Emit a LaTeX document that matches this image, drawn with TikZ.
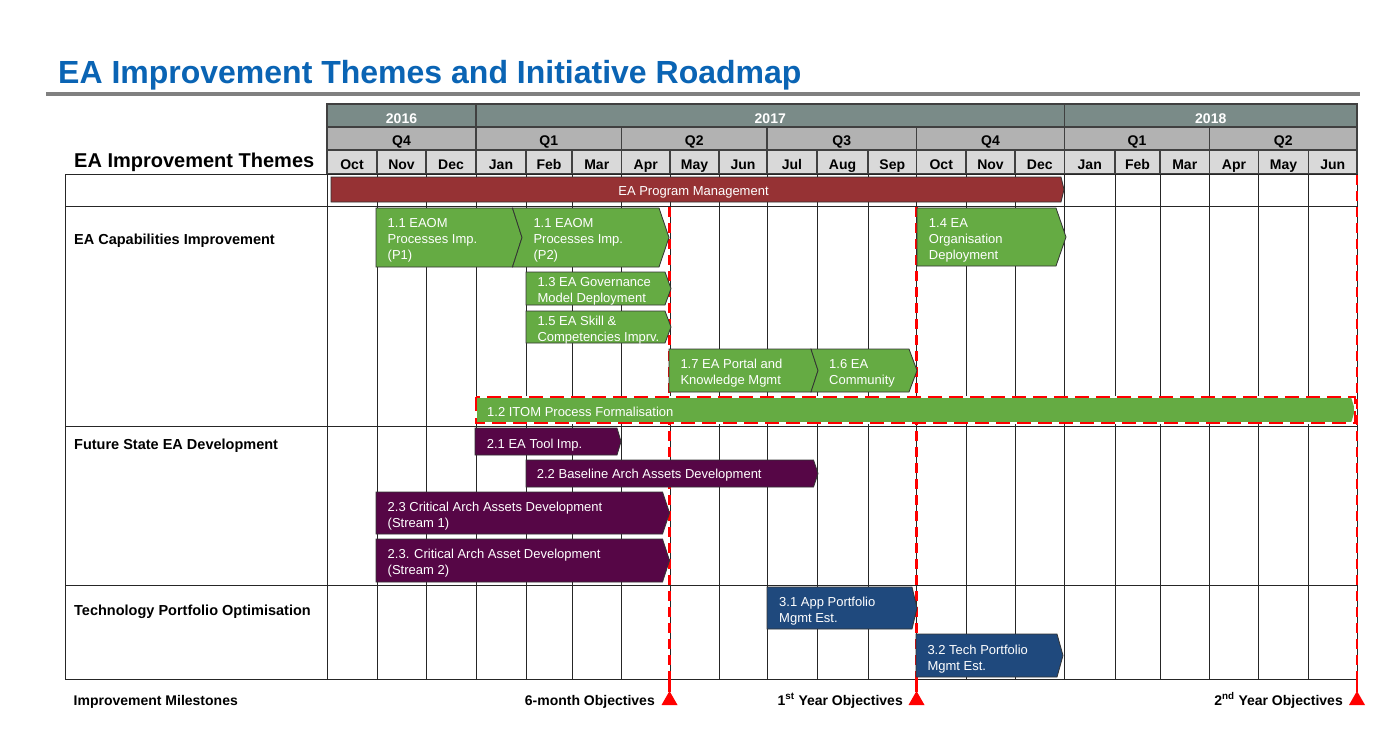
\documentclass[tikz,border=0pt]{standalone}
\usepackage{fontspec}
\setmainfont{Liberation Sans}
\definecolor{titleblue}{RGB}{10,100,180}
\definecolor{yeargrey}{RGB}{122,139,136}
\definecolor{qgrey}{RGB}{178,178,178}
\definecolor{mgrey}{RGB}{217,217,217}
\definecolor{pmred}{RGB}{150,50,52}
\definecolor{ggreen}{RGB}{101,171,67}
\definecolor{ppurple}{RGB}{86,6,70}
\definecolor{bblue}{RGB}{31,73,125}
\definecolor{ruleg}{RGB}{128,128,128}
\definecolor{msred}{RGB}{255,0,0}
\newcommand\ml[1]{\begin{tabular}[t]{@{}l@{}}#1\end{tabular}}
\newcommand\chev[7]{%
  \filldraw[fill=#1,draw=black!80,line width=0.8bp,line join=miter]
    (#2,#4) -- ({#3-#6},#4) -- (#3,{(#4+#5)/2}) -- ({#3-#6},#5) -- (#2,#5) -- ({#2+#7},{(#4+#5)/2}) -- cycle;}
\tikzset{
  hdrcell/.style={draw=black!75,line width=1.2bp},
  hdrtext/.style={font=\fontsize{14bp}{16bp}\selectfont\bfseries,inner sep=0pt,anchor=base},
  bartext/.style={text=white,font=\fontsize{13bp}{16bp}\selectfont,inner sep=0pt,anchor=base west},
  theme/.style={font=\fontsize{14.5bp}{17bp}\selectfont\bfseries,inner sep=0pt,anchor=base west},
  mstext/.style={font=\fontsize{14bp}{17bp}\selectfont\bfseries,inner sep=0pt,anchor=base east},
  grid/.style={draw=black!85,line width=1bp},
  msline/.style={draw=msred,line width=2.5bp,dash pattern=on 10bp off 6bp},
}
\begin{document}
\begin{tikzpicture}[x=1bp,y=-1bp]
\useasboundingbox[fill=white] (0,0) rectangle (1395,729);
% title
\node[font=\fontsize{32bp}{36bp}\selectfont\bfseries,text=titleblue,inner sep=0pt,anchor=base west] (title) at (58,83.3) {EA Improvement Themes and Initiative Roadmap};
\draw[ruleg,line width=4bp] (46,94.5) -- (1360,94.5);
% header
\foreach \a/\b/\t in {327/476/2016,476/1064.5/2017,1064.5/1357/2018}{
  \filldraw[hdrcell,fill=yeargrey] (\a,104) rectangle (\b,127);
  \node[hdrtext,text=white] (y\t) at ({(\a+\b)/2},123.5) {\t};}
\foreach \a/\b/\t/\n in {327/476/Q4/a,476/621.5/Q1/b,621.5/767/Q2/c,767/916.5/Q3/d,916.5/1064.5/Q4/e,1064.5/1209.5/Q1/f,1209.5/1357/Q2/g}{
  \filldraw[hdrcell,fill=qgrey] (\a,127) rectangle (\b,150);
  \node[hdrtext] (q\n) at ({(\a+\b)/2},145) {\t};}
\foreach \a/\b/\t/\n in {327/377/Oct/1,377/426/Nov/2,426/476/Dec/3,476/526/Jan/4,526/572/Feb/5,572/621.5/Mar/6,621.5/670/Apr/7,670/719/May/8,719/767/Jun/9,767/817/Jul/10,817/868/Aug/11,868/916.5/Sep/12,916.5/966/Oct/13,966/1015/Nov/14,1015/1064.5/Dec/15,1064.5/1115/Jan/16,1115/1160/Feb/17,1160/1209.5/Mar/18,1209.5/1258.5/Apr/19,1258.5/1308.5/May/20,1308.5/1357/Jun/21}{
  \filldraw[hdrcell,fill=mgrey] (\a,150) rectangle (\b,173.5);
  \node[hdrtext] (m\n) at ({(\a+\b)/2},169) {\t};}
\node[font=\fontsize{20bp}{24bp}\selectfont\bfseries,inner sep=0pt,anchor=base west] (themes) at (74,167.3) {EA Improvement Themes};
% body grid
\foreach \x in {377,426,476,526,572,621.5,670,719,767,817,868,916.5,966,1015,1064.5,1115,1160,1209.5,1258.5,1308.5}{
  \draw[grid] (\x,174) -- (\x,679);}
\foreach \y in {174,206,426,585,679}{
  \draw[grid] (65,\y) -- (1357,\y);}
\draw[grid] (65,174) -- (65,679);
\draw[grid] (327,174) -- (327,679);
\draw[grid] (1357,174) -- (1357,679);
% theme labels
\node[theme] (t1) at (74,244) {EA Capabilities Improvement};
\node[theme] (t2) at (74,449) {Future State EA Development};
\node[theme] (t3) at (74,615) {Technology Portfolio Optimisation};
% milestone lines (behind the bars)
\draw[msline] (669.5,207) -- (669.5,679);
\draw[msline] (916.5,207) -- (916.5,679);
\draw[msline] (1357,175) -- (1357,679);
\foreach \x/\n in {669.5/a,916.5/b,1357/c}{
  \draw[msred,line width=2.5bp] (\x,679) -- (\x,692);
  \fill[msred] (\x-8,705) -- (\x+8,705) -- (\x,691) -- cycle;}
% bars
\chev{pmred}{331}{1064}{177}{202}{3}{0}
\chev{ggreen}{376}{522}{208}{267}{9.5}{0}
\chev{ggreen}{512.5}{669}{208}{267}{10}{9.5}
\chev{ggreen}{526}{671}{272}{305}{6}{0}
\chev{ggreen}{526}{671}{311}{343}{6}{0}
\chev{ggreen}{669}{818}{349}{392}{7}{0}
\chev{ggreen}{811}{917}{349}{392}{8}{7}
\chev{ggreen}{917}{1066}{208}{266}{10}{0}
\chev{ppurple}{475}{621}{428}{455}{4}{0}
\chev{ppurple}{526}{818}{460}{487}{4.5}{0}
\chev{ppurple}{376}{669.5}{492}{534}{7}{0}
\chev{ppurple}{376}{669.5}{539}{582}{7}{0}
\chev{bblue}{767}{917}{587}{629}{5}{0}
\chev{bblue}{916}{1063}{634}{677}{6}{0}
% ITOM bar with dashed outline
\fill[ggreen] (476,397) -- (1351,397) -- (1355,410) -- (1351,423) -- (476,423) -- cycle;
\draw[white,line width=2.5bp] (476,397) rectangle (1355,423);
\draw[msred,line width=2.5bp,dash pattern=on 14bp off 7bp] (476,397) rectangle (1355,423);
% bar texts
\node[bartext,anchor=base] (pm) at (693.5,195) {EA Program Management};
\node[bartext] (b11a) at (387.5,227.3) {\ml{1.1 EAOM\\Processes Imp.\\(P1)}};
\node[bartext] (b11b) at (533.3,227.3) {\ml{1.1 EAOM\\Processes Imp.\\(P2)}};
\node[bartext] (b13) at (537.3,286) {\ml{1.3 EA Governance\\Model Deployment}};
\node[bartext] (b15) at (537.3,325.5) {\ml{1.5 EA Skill \&\\Competencies Imprv.}};
\node[bartext] (b17) at (680.3,368.3) {\ml{1.7 EA Portal and\\Knowledge Mgmt}};
\node[bartext] (b16) at (829,368.3) {\ml{1.6 EA\\Community}};
\node[bartext] (b14) at (928.7,227.3) {\ml{1.4 EA\\Organisation\\Deployment}};
\node[bartext] (b12) at (487,416) {1.2 ITOM Process Formalisation};
\node[bartext] (b21) at (486.7,448) {2.1 EA Tool Imp.};
\node[bartext] (b22) at (536.7,478.7) {2.2 Baseline Arch Assets Development};
\node[bartext] (b23a) at (387.5,511) {\ml{2.3 Critical Arch Assets Development\\(Stream 1)}};
\node[bartext] (b23b) at (387.5,558) {\ml{2.3. Critical Arch Asset Development\\(Stream 2)}};
\node[bartext] (b31) at (779,606) {\ml{3.1 App Portfolio\\Mgmt Est.}};
\node[bartext] (b32) at (927.3,654) {\ml{3.2 Tech Portfolio\\Mgmt Est.}};
% milestones
\node[mstext,anchor=base west] (msl) at (73.5,705) {Improvement Milestones};
\node[mstext] (ms1) at (655,705) {6-month Objectives};
\node[mstext] (ms2) at (903,705) {1\textsuperscript{st} Year Objectives};
\node[mstext] (ms3) at (1343,705) {2\textsuperscript{nd} Year Objectives};
\end{tikzpicture}
\end{document}
